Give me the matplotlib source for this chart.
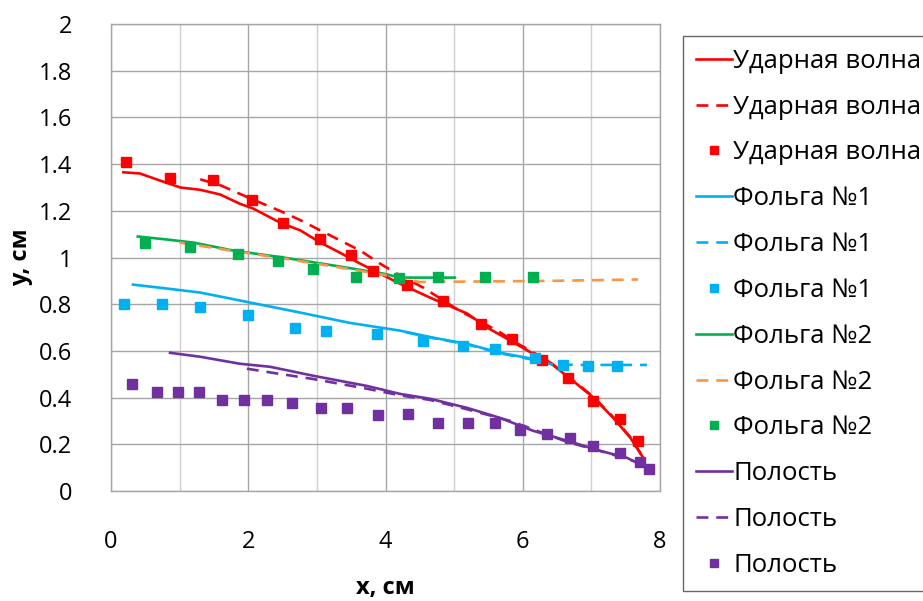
import matplotlib
matplotlib.use("Agg")
import matplotlib.pyplot as plt
from matplotlib.ticker import MultipleLocator

plt.rcParams['font.family'] = ['Open Sans', 'DejaVu Sans']

# --- Ударная волна ---
shock_x = [0.18, 0.42, 0.71, 1.01, 1.30, 1.59, 1.88, 2.07, 2.46, 2.76, 3.05, 3.34, 3.63,
           3.92, 4.21, 4.65, 5.19, 5.48, 5.82, 6.15, 6.36, 6.73, 7.03, 7.32, 7.57, 7.76]
shock_y = [1.365, 1.36, 1.33, 1.30, 1.29, 1.27, 1.23, 1.21, 1.15, 1.116, 1.064, 1.02, 0.974,
           0.931, 0.888, 0.828, 0.76, 0.70, 0.644, 0.588, 0.558, 0.472, 0.40, 0.313, 0.227, 0.14]
shock_dx = [1.30, 1.59, 2.03, 2.46, 2.76, 3.05, 3.34, 3.63, 3.92, 4.21, 4.55, 5.09, 5.63,
            5.92, 6.36, 6.73, 7.03, 7.32, 7.57, 7.74]
shock_dy = [1.335, 1.31, 1.253, 1.20, 1.16, 1.116, 1.073, 1.03, 0.974, 0.923, 0.871, 0.77,
            0.687, 0.632, 0.56, 0.475, 0.403, 0.316, 0.23, 0.15]
shock_mx = [0.22, 0.86, 1.49, 2.06, 2.51, 3.05, 3.50, 3.82, 4.31, 4.84, 5.39, 5.85, 6.28,
            6.66, 7.03, 7.42, 7.68]
shock_my = [1.41, 1.34, 1.33, 1.245, 1.146, 1.08, 1.01, 0.944, 0.884, 0.815, 0.717, 0.652,
            0.562, 0.485, 0.386, 0.309, 0.215]

# --- Фольга №1 ---
foil1_x = [0.32, 0.82, 1.30, 2.03, 2.76, 3.48, 4.21, 4.69, 5.19, 5.67, 6.15, 6.25]
foil1_y = [0.884, 0.867, 0.85, 0.807, 0.764, 0.72, 0.687, 0.657, 0.63, 0.592, 0.566, 0.558]
foil1_dx = [4.30, 4.69, 5.19, 5.67, 6.15, 6.44, 6.94, 7.40, 7.81]
foil1_dy = [0.680, 0.655, 0.628, 0.590, 0.562, 0.541, 0.540, 0.540, 0.540]
foil1_mx = [0.19, 0.74, 1.30, 2.0, 2.68, 3.13, 3.88, 4.55, 5.13, 5.6, 6.18, 6.59, 6.95, 7.38]
foil1_my = [0.80, 0.80, 0.787, 0.755, 0.70, 0.687, 0.674, 0.644, 0.622, 0.609, 0.571,
            0.541, 0.536, 0.536]

# --- Фольга №2 ---
foil2_x = [0.39, 0.82, 1.20, 1.78, 2.51, 3.24, 3.97, 4.21, 4.65, 5.01]
foil2_y = [1.09, 1.077, 1.064, 1.03, 1.0, 0.966, 0.931, 0.914, 0.914, 0.914]
foil2_dx = [1.0, 1.78, 2.51, 3.24, 3.97, 4.5, 5.19, 6.4, 7.68]
foil2_dy = [1.064, 1.028, 0.996, 0.962, 0.926, 0.895, 0.897, 0.90, 0.906]
foil2_mx = [0.5, 1.15, 1.85, 2.43, 2.94, 3.57, 4.2, 4.77, 5.45, 6.15]
foil2_my = [1.064, 1.047, 1.017, 0.983, 0.953, 0.918, 0.914, 0.918, 0.918, 0.918]

# --- Полость ---
cav_x = [0.86, 1.30, 1.88, 2.32, 2.94, 3.73, 4.21, 4.65, 5.19, 5.67, 6.15, 6.65, 7.13,
         7.52, 7.81]
cav_y = [0.592, 0.575, 0.545, 0.532, 0.494, 0.45, 0.416, 0.395, 0.356, 0.313, 0.258,
         0.215, 0.172, 0.142, 0.099]
cav_dx = [1.98, 2.36, 2.94, 3.73, 4.21, 4.65, 5.19, 5.82, 6.65, 7.23, 7.61]
cav_dy = [0.524, 0.506, 0.48, 0.438, 0.41, 0.39, 0.35, 0.30, 0.21, 0.163, 0.129]
cav_mx = [0.31, 0.67, 0.98, 1.28, 1.62, 1.94, 2.27, 2.64, 3.06, 3.44, 3.89, 4.33, 4.77,
          5.2, 5.6, 5.96, 6.36, 6.69, 7.03, 7.42, 7.71, 7.84]
cav_my = [0.46, 0.425, 0.425, 0.425, 0.39, 0.39, 0.39, 0.378, 0.356, 0.356, 0.326, 0.33,
          0.292, 0.292, 0.292, 0.262, 0.245, 0.227, 0.193, 0.163, 0.124, 0.094]

RED = '#FF0000'
CYAN = '#00B0F0'
GREEN = '#00B050'
ORANGE = '#F79646'
PURPLE = '#7030A0'

lw = 1.9
ms = 7.5
dash = (0, (4.5, 3.0))

fig = plt.figure(figsize=(9.23, 6.01), dpi=100)
ax = fig.add_axes([0.1203, 0.183, 0.5948, 0.777])

series = [
    ('Ударная волна', RED, RED, RED, shock_x, shock_y, shock_dx, shock_dy, shock_mx, shock_my),
    ('Фольга №1', CYAN, CYAN, CYAN, foil1_x, foil1_y, foil1_dx, foil1_dy, foil1_mx, foil1_my),
    ('Фольга №2', GREEN, ORANGE, GREEN, foil2_x, foil2_y, foil2_dx, foil2_dy, foil2_mx, foil2_my),
    ('Полость', PURPLE, PURPLE, PURPLE, cav_x, cav_y, cav_dx, cav_dy, cav_mx, cav_my),
]

handles = []
for name, c1, c2, c3, x, y, dx, dy, mx, my in series:
    h1, = ax.plot(x, y, color=c1, lw=lw, label=name, zorder=3)
    h2, = ax.plot(dx, dy, color=c2, lw=lw, linestyle=dash, label=name, zorder=3)
    h3, = ax.plot(mx, my, color=c3, lw=0, marker='s', ms=ms, label=name, zorder=4)
    handles += [h1, h2, h3]

ax.set_xlim(0, 8)
ax.set_ylim(0, 2)
ax.xaxis.set_major_locator(MultipleLocator(2))
ax.xaxis.set_minor_locator(MultipleLocator(1))
ax.set_yticks([i * 0.2 for i in range(11)])
ax.set_yticklabels(['0', '0.2', '0.4', '0.6', '0.8', '1', '1.2', '1.4', '1.6', '1.8', '2'])
ax.grid(which='major', color='#A6A6A6', lw=1.0, zorder=0)
ax.grid(which='minor', axis='x', color='#D0D0D0', lw=1.0, zorder=0)
ax.tick_params(which='both', length=0, labelsize=17, colors='black')
ax.tick_params(axis='x', pad=28)
ax.tick_params(axis='y', pad=28)
for sp in ax.spines.values():
    sp.set_color('#A6A6A6')
    sp.set_linewidth(1.0)

ax.set_xlabel('x, см', fontsize=17, fontweight='bold', labelpad=16)
ax.set_ylabel('y, см', fontsize=17, fontweight='bold', labelpad=4)

leg = fig.legend(handles=handles, loc='upper left', bbox_to_anchor=(683 / 923, 1 - 36 / 601),
                 fontsize=18.5, frameon=True, fancybox=False, edgecolor='#404040',
                 handlelength=1.4, handletextpad=0.05, labelspacing=0.81, borderpad=0.5,
                 borderaxespad=0, markerscale=0.75)
leg.get_frame().set_linewidth(1.0)

fig.savefig('out.png', dpi=100)
